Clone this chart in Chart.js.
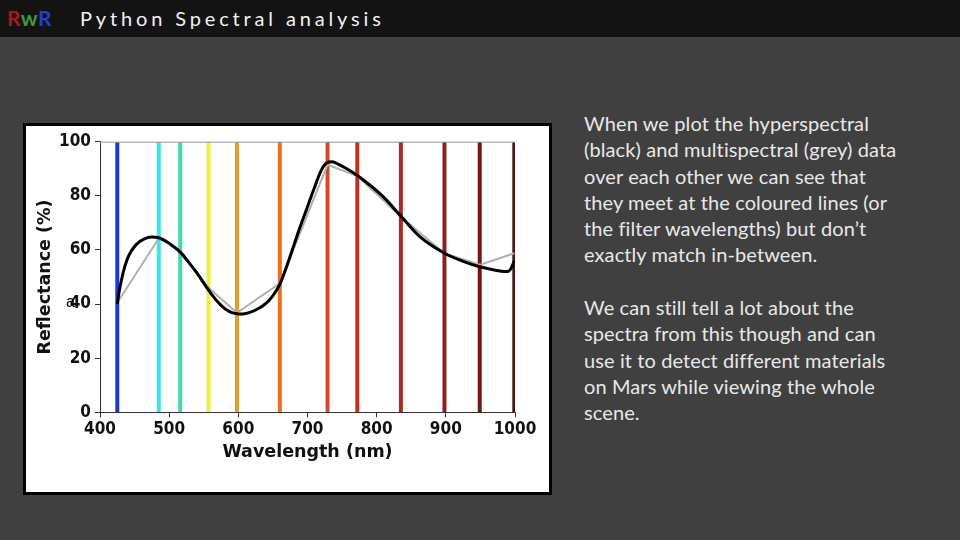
<!DOCTYPE html>
<html>
<head>
<meta charset="utf-8">
<script src="https://cdn.jsdelivr.net/npm/chart.js@4/dist/chart.umd.min.js"></script>
<style>
  html, body { margin: 0; padding: 0; }
  body { width: 960px; height: 540px; overflow: hidden; background: #404040; position: relative; font-family: Lato, "Open Sans", sans-serif; }
  #header { position: absolute; left: 0; top: 0; width: 960px; height: 37px; background: #131313; }
  #logo { position: absolute; left: 7px; top: 5px; font: bold 21px/25px Lato, sans-serif; letter-spacing: 0.5px; }
  #title { position: absolute; left: 80px; top: 6px; font: 20px/24px Lato, sans-serif; color: #f2f2f2; letter-spacing: 3.85px; }
  #box { position: absolute; left: 23px; top: 123px; width: 529px; height: 372px; box-sizing: border-box; border: 3px solid #000; background: #fff; }
  #box canvas { position: absolute; left: 0; top: 0; }
  #stray { position: absolute; left: 66px; top: 293px; font: 16px/18px "Liberation Sans", sans-serif; color: #000; }
  #notes { position: absolute; left: 584px; top: 110px; width: 370px; font: 20px/26.3px Lato, sans-serif; color: #e8e8e8; letter-spacing: 0.1px; }
</style>
</head>
<body>
<div id="header">
  <div id="logo"><span style="color:#b31515">R</span><span style="color:#3a9a3a">w</span><span style="color:#2040d0">R</span></div>
  <div id="title">Python Spectral analysis</div>
</div>
<div id="box"><canvas id="c" width="523" height="366"></canvas></div>
<div id="stray">a</div>
<div id="notes">When we plot the hyperspectral<br>(black) and multispectral (grey) data<br>over each other we can see that<br>they meet at the coloured lines (or<br>the filter wavelengths) but don’t<br>exactly match in-between.<br><br>We can still tell a lot about the<br>spectra from this though and can<br>use it to detect different materials<br>on Mars while viewing the whole<br>scene.</div>
<script>
// ---- data ----
const filterWavelengths = [425, 485, 516, 557, 598, 660, 729, 772, 835, 898, 949, 999];
const filterColors = ['#1a3ccc', '#38e6ef', '#3ddfa5', '#f3ee3c', '#e99a2c', '#ef6f17', '#d4492f', '#c0321f', '#a92c1d', '#8f2016', '#741710', '#4c1510'];
const multispectral = [40.5, 64.3, 59.8, 46, 36.8, 47.7, 91.5, 87.3, 72.3, 58.8, 54.5, 58.8];
const hyperWavelengths = [425, 428, 432, 436, 440, 445, 450, 458, 466, 475, 485, 495, 505, 516, 528, 540, 552, 563, 575, 587, 598, 606, 615, 625, 635, 645, 655, 662, 670, 680, 690, 700, 710, 720, 728, 736, 745, 758, 772, 790, 810, 835, 862, 898, 925, 949, 970, 985, 991, 995, 999];
const hyperspectral = [40, 45, 50, 54, 57, 59.5, 61.3, 63.2, 64.3, 64.8, 64.5, 63.3, 61.5, 59.2, 55.5, 51.5, 47, 43, 39.5, 37.2, 36.4, 36.3, 36.8, 37.8, 39.3, 41.5, 45, 48.5, 54, 61.5, 69, 76, 83, 89.5, 92.2, 92.6, 91.6, 89.8, 87.5, 84, 79.5, 72.5, 65, 58.8, 55.8, 53.8, 52.6, 52, 52.2, 53.5, 56];
const xTicks = [400, 500, 600, 700, 800, 900, 1000];
const yTicks = [0, 20, 40, 60, 80, 100];
const xLabel = 'Wavelength (nm)';
const yLabel = 'Reflectance (%)';

// ---- build datasets ----
const datasets = [];
datasets.push({
  label: 'hyperspectral',
  data: hyperWavelengths.map((w, i) => ({x: w, y: hyperspectral[i]})),
  borderColor: '#000', borderWidth: 3, pointRadius: 0, cubicInterpolationMode: 'monotone', order: 0
});
datasets.push({
  label: 'multispectral',
  data: filterWavelengths.map((w, i) => ({x: w, y: multispectral[i]})),
  borderColor: '#b0b0b0', borderWidth: 2, pointRadius: 0, tension: 0, order: 1
});
filterWavelengths.forEach((w, i) => {
  datasets.push({
    label: 'filter ' + w,
    data: [{x: w, y: 0}, {x: w, y: 100}],
    borderColor: filterColors[i], borderWidth: 4, pointRadius: 0, order: 2
  });
});

const spinePlugin = {
  id: 'spines',
  afterDatasetsDraw(chart) {
    const {ctx, chartArea: a} = chart;
    ctx.save();
    ctx.strokeStyle = '#9a9a9a';
    ctx.lineWidth = 1;
    ctx.beginPath();
    ctx.moveTo(a.left, a.top + 0.5);
    ctx.lineTo(a.right, a.top + 0.5);
    ctx.stroke();
    ctx.restore();
  }
};

const tickFont = {family: '"DejaVu Sans Condensed", "DejaVu Sans", sans-serif', weight: 'bold', size: 17};
const titleFont = {family: '"DejaVu Sans", sans-serif', weight: 'bold', size: 17.5, lineHeight: 1.2};

new Chart(document.getElementById('c'), {
  type: 'line',
  data: {datasets},
  plugins: [spinePlugin],
  options: {
    responsive: false,
    animation: false,
    events: [],
    layout: {padding: {left: 0, top: 15.7, right: 34, bottom: 0}},
    plugins: {legend: {display: false}, tooltip: {enabled: false}},
    scales: {
      x: {
        type: 'linear', min: 400, max: 1000,
        afterBuildTicks: (s) => { s.ticks = xTicks.map(v => ({value: v})); },
        afterFit: (s) => { s.height = 79.7; },
        ticks: {color: '#111', font: tickFont, padding: 2, maxRotation: 0, autoSkip: false, callback: (v) => String(v)},
        grid: {drawOnChartArea: false, drawTicks: true, tickLength: 5, color: '#333'},
        border: {display: true, color: '#333', width: 1},
        title: {display: true, text: xLabel, color: '#111', font: titleFont, padding: {top: 0, bottom: 29}}
      },
      y: {
        type: 'linear', min: 0, max: 100,
        afterBuildTicks: (s) => { s.ticks = yTicks.map(v => ({value: v})); },
        afterFit: (s) => { s.width = 74; },
        ticks: {color: '#111', font: tickFont, padding: 4, autoSkip: false, callback: (v) => String(v)},
        grid: {drawOnChartArea: false, drawTicks: true, tickLength: 5, color: '#333'},
        border: {display: true, color: '#333', width: 1},
        title: {display: true, text: yLabel, color: '#111', font: titleFont, padding: {top: 9, bottom: 0}}
      }
    }
  }
});
</script>
</body>
</html>
